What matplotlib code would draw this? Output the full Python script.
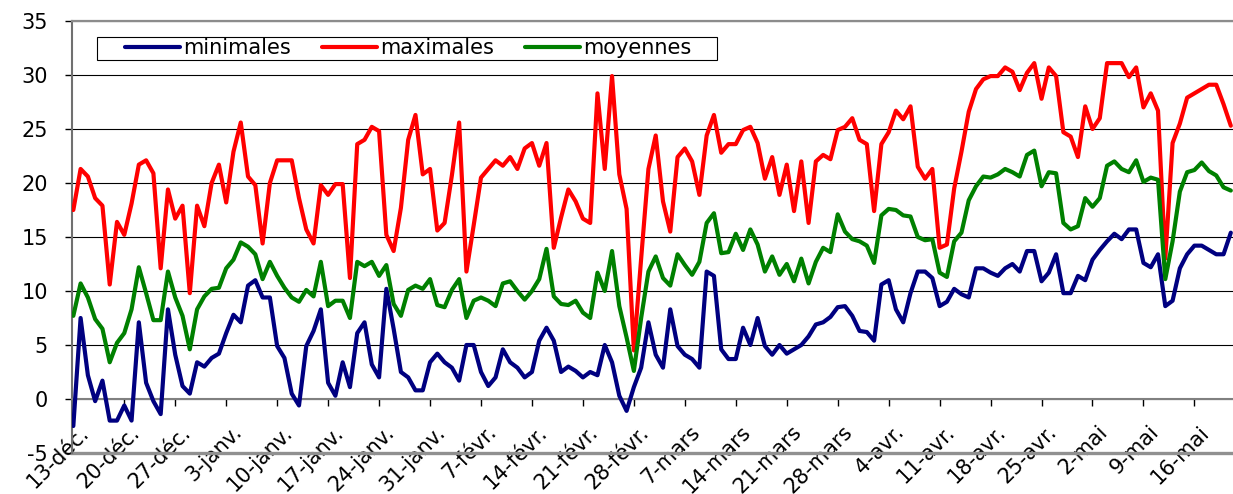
import numpy as np
import matplotlib
matplotlib.use('Agg')
import matplotlib.pyplot as plt
from matplotlib.patches import Rectangle
from matplotlib.transforms import ScaledTranslation

# Daily temperatures, 13 dec -> 21 may
minimales = [-2.5, 7.5, 2.2, -0.2, 1.7, -2.0, -2.0, -0.6, -2.0, 7.1,
             1.5, -0.2, -1.4, 8.3, 4.1, 1.2, 0.5, 3.4, 3.0, 3.8,
             4.2, 6.1, 7.8, 7.1, 10.5, 11.0,
             9.4, 9.4, 4.9, 3.8, 0.5, -0.6, 4.9, 6.3, 8.3, 1.5,
             0.3, 3.4, 1.1, 6.1, 7.1, 3.2, 2.0, 10.2, 6.5, 2.5,
             2.0, 0.8, 0.8, 3.4, 4.2,
             3.4, 2.9, 1.7, 5.0, 5.0, 2.5, 1.2, 2.0, 4.6, 3.4,
             2.9, 2.0, 2.5, 5.4, 6.6, 5.4, 2.5, 3.0, 2.6, 2.0,
             2.5, 2.2, 5.0, 3.4, 0.3, -1.1, 1.1,
             2.9, 7.1, 4.1, 2.9, 8.3, 4.9, 4.1, 3.7, 2.9, 11.8,
             11.4, 4.6, 3.7, 3.7, 6.6, 5.0, 7.5, 4.9, 4.1, 5.0,
             4.2, 4.6, 5.0, 5.8, 6.9, 7.1, 7.6,
             8.5, 8.6, 7.7, 6.3, 6.2, 5.4, 10.6, 11.0, 8.3, 7.1,
             9.8, 11.8, 11.8, 11.2, 8.6, 9.0, 10.2, 9.7, 9.4, 12.1,
             12.1, 11.7, 11.4, 12.1, 12.5, 11.8,
             13.7, 13.7, 10.9, 11.7, 13.4, 9.8, 9.8, 11.4, 11.0, 12.9,
             13.8, 14.6, 15.3, 14.8, 15.7, 15.7, 12.6, 12.2, 13.4, 8.6,
             9.1, 12.1, 13.4, 14.2, 14.2, 13.8, 13.4, 13.4, 15.4]

maximales = [17.5, 21.3, 20.6, 18.6, 17.9, 10.6, 16.4, 15.2, 18.1, 21.7,
             22.1, 20.9, 12.1, 19.4, 16.7, 17.9, 9.8, 17.9, 16.0, 20.0,
             21.7, 18.2, 22.9, 25.6, 20.6, 19.8,
             14.4, 20.0, 22.1, 22.1, 22.1, 18.6, 15.7, 14.4, 19.8, 18.9,
             19.9, 19.9, 11.2, 23.6, 24.0, 25.2, 24.8, 15.2, 13.7, 17.7,
             24.0, 26.3, 20.8, 21.3, 15.6,
             16.3, 20.7, 25.6, 11.8, 16.1, 20.5, 21.3, 22.1, 21.6, 22.4,
             21.3, 23.2, 23.7, 21.6, 23.7, 14.0, 16.8, 19.4, 18.3, 16.7,
             16.3, 28.3, 21.3, 29.9, 20.8, 17.6, 4.5,
             13.0, 21.3, 24.4, 18.3, 15.5, 22.4, 23.2, 22.0, 18.9, 24.4,
             26.3, 22.8, 23.6, 23.6, 24.9, 25.2, 23.7, 20.4, 22.4, 18.9,
             21.7, 17.4, 22.0, 16.3, 22.0, 22.6, 22.2,
             24.9, 25.2, 26.0, 24.0, 23.6, 17.4, 23.6, 24.7, 26.7, 25.9,
             27.1, 21.5, 20.4, 21.3, 14.0, 14.3, 19.5, 22.9, 26.6, 28.7,
             29.6, 29.9, 29.9, 30.7, 30.3, 28.6,
             30.2, 31.1, 27.8, 30.7, 29.9, 24.7, 24.3, 22.4, 27.1, 25.0,
             26.0, 31.1, 31.1, 31.1, 29.8, 30.7, 27.0, 28.3, 26.7, 13.0,
             23.7, 25.5, 27.9, 28.3, 28.7, 29.1, 29.1, 27.3, 25.3]

moyennes = [7.7, 10.7, 9.4, 7.4, 6.5, 3.4, 5.2, 6.1, 8.3, 12.2,
            9.8, 7.3, 7.3, 11.8, 9.4, 7.7, 4.6, 8.3, 9.5, 10.2,
            10.3, 12.1, 12.9, 14.5, 14.1, 13.4,
            11.1, 12.7, 11.4, 10.3, 9.4, 9.0, 10.1, 9.5, 12.7, 8.6,
            9.1, 9.1, 7.5, 12.7, 12.3, 12.7, 11.4, 12.4, 8.8, 7.7,
            10.1, 10.5, 10.2, 11.1, 8.7,
            8.5, 10.1, 11.1, 7.5, 9.1, 9.4, 9.1, 8.6, 10.7, 10.9,
            10.0, 9.2, 10.0, 11.1, 13.9, 9.5, 8.8, 8.7, 9.1, 8.0,
            7.5, 11.7, 10.0, 13.7, 8.6, 5.7, 2.6,
            7.5, 11.8, 13.2, 11.2, 10.5, 13.4, 12.4, 11.5, 12.7, 16.3,
            17.2, 13.5, 13.6, 15.3, 13.8, 15.7, 14.3, 11.8, 13.2, 11.5,
            12.5, 10.9, 13.0, 10.7, 12.7, 14.0, 13.6,
            17.1, 15.5, 14.8, 14.6, 14.2, 12.6, 17.0, 17.6, 17.5, 17.0,
            16.9, 15.0, 14.7, 14.8, 11.7, 11.3, 14.6, 15.4, 18.4, 19.7,
            20.6, 20.5, 20.8, 21.3, 21.0, 20.6,
            22.6, 23.0, 19.7, 21.0, 20.9, 16.3, 15.7, 16.0, 18.6, 17.8,
            18.6, 21.6, 22.0, 21.3, 21.0, 22.1, 20.1, 20.5, 20.3, 11.1,
            14.6, 19.2, 21.0, 21.2, 21.9, 21.1, 20.7, 19.6, 19.3]

week_labels = ['13-déc.', '20-déc.', '27-déc.', '3-janv.', '10-janv.', '17-janv.',
               '24-janv.', '31-janv.', '7-févr.', '14-févr.', '21-févr.', '28-févr.',
               '7-mars', '14-mars', '21-mars', '28-mars', '4-avr.', '11-avr.',
               '18-avr.', '25-avr.', '2-mai', '9-mai', '16-mai']

series = [('minimales', minimales, '#000080'),
          ('maximales', maximales, '#FF0000'),
          ('moyennes', moyennes, '#008000')]

plt.rcParams['font.family'] = ['DejaVu Sans']
plt.rcParams['axes.unicode_minus'] = False
W, H = 1233, 494
fig = plt.figure(figsize=(W / 100, H / 100), dpi=100)
ax = fig.add_axes([71.5 / W, 1 - 453 / H, (W - 71.5) / W, (453 - 21) / H])

days = np.arange(len(minimales))
handles = []
for name, vals, col in series:
    ln, = ax.plot(days, vals, color=col, lw=3.0, solid_joinstyle='round',
                  solid_capstyle='round', label=name, zorder=3)
    handles.append(ln)

ax.set_xlim(-0.25, 159.3)
ax.set_ylim(-5, 35)
ax.set_yticks(np.arange(-5, 36, 5))
ax.yaxis.grid(True, color='black', lw=0.8, zorder=0)
ax.set_axisbelow(True)

# x axis crosses at 0
ax.spines['bottom'].set_position(('data', 0))
ax.spines['bottom'].set_color('#808080')
ax.spines['bottom'].set_linewidth(1.5)
ax.spines['top'].set_color('#8c8c8c')
ax.spines['top'].set_linewidth(1.6)
ax.spines['right'].set_visible(False)
ax.spines['left'].set_color('#707070')
ax.spines['left'].set_linewidth(1.5)
ax.axhline(-5, color='#909090', lw=2.4, clip_on=False, zorder=2.5)

ax.set_xticks(np.arange(0, 7 * len(week_labels), 7))
ax.set_xticklabels(week_labels)
ax.tick_params(axis='x', direction='out', length=5, width=1, color='black',
               pad=11.5, labelsize=15)
ax.tick_params(axis='y', direction='out', length=5, width=1, color='black',
               pad=12, labelsize=15)
shift = ScaledTranslation(0.05, 0, fig.dpi_scale_trans)
for lbl in ax.get_xticklabels():
    lbl.set_rotation(45)
    lbl.set_ha('right')
    lbl.set_va('top')
    lbl.set_rotation_mode('anchor')
    lbl.set_transform(lbl.get_transform() + shift)

# legend with its own box
box = Rectangle((97 / W, 1 - 60 / H), 620 / W, 23 / H, transform=fig.transFigure,
                facecolor='white', edgecolor='black', lw=0.8, zorder=4)
fig.add_artist(box)
fig.legend(handles=handles, loc='center left', bbox_to_anchor=(125 / W, 1 - 48.5 / H),
           ncol=3, frameon=False, fontsize=15, handlelength=2.64, handletextpad=0.15,
           columnspacing=1.5, borderpad=0, borderaxespad=0)

fig.savefig('out.png', dpi=100)
